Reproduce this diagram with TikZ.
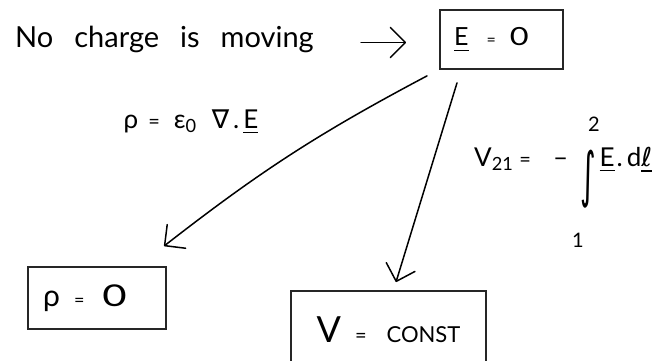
\documentclass[tikz,border=0pt]{standalone}
\usepackage{fontspec}
\setmainfont{Lato}
\newfontfamily\symf{DejaVu Sans}
\usetikzlibrary{arrows.meta}
\newcommand\vunder[1]{\leavevmode\vtop{\hbox{#1}\kern 4pt\hrule height 1.3pt}}
\newcommand\roundzero[1]{\scalebox{#1}[1]{0}}
\begin{document}
\begin{tikzpicture}[x=1pt,y=-1pt,
  box/.style={draw=black!85, line width=1.8pt, inner sep=0pt, anchor=center},
  hand/.style={line width=1.5pt, line cap=round, line join=round,
    -{Straight Barb[length=15pt,width=30pt,line cap=round,line join=round]}},
  lbl/.style={inner sep=0pt}]
\useasboundingbox (0,0) rectangle (672,361);
\clip (0,0) rectangle (672,361);

% text at top left
\node[lbl, anchor=base west] (t) at (15,48)
  {\fontsize{29}{30}\selectfont\spaceskip=21pt No charge is moving};

% boxes
\node[box, minimum width=123pt, minimum height=59pt] (E) at (501.5,39.5)
  {\hspace*{-20pt}\fontsize{25}{28}\selectfont \vunder{E}\hspace{18pt}{\fontsize{16}{16}\selectfont =}\hspace{14pt}\roundzero{1.3}};
\node[box, minimum width=138pt, minimum height=62pt] (rho) at (97,298)
  {\hspace*{-24pt}\fontsize{30}{30}\selectfont ρ\hspace{14pt}{\fontsize{18}{18}\selectfont =}\hspace{18pt}\roundzero{1.4}};
\node[box, minimum width=195pt, minimum height=78pt] (V) at (388.5,330)
  {{\fontsize{36}{36}\selectfont V}\hspace{14pt}{\fontsize{20}{20}\selectfont =}\hspace{20pt}{\fontsize{22}{22}\selectfont CONST}};

% labels
\node[lbl, anchor=base] (gauss) at (191,128)
  {\fontsize{26}{28}\selectfont ρ\hspace{10pt}{\fontsize{20}{20}\selectfont =}\hspace{14pt}ε\textsubscript{0}\hspace{15pt}{\symf ∇}\hspace{4pt}.\hspace{4pt}\vunder{E}};
\node[lbl, anchor=base west] (pot) at (474,166)
  {\fontsize{26}{28}\selectfont V\textsubscript{21}\hspace{6pt}{\fontsize{20}{20}\selectfont =}\hspace{22pt}–\hspace{12pt}\raisebox{-29pt}{\scalebox{1}[2]{\fontsize{30}{30}\symf ∫}}\hspace{4pt}\vunder{E}\hspace{2pt}.\hspace{4pt}d\vunder{{\symf ℓ}}};
\node[lbl] (up) at (594,124) {\fontsize{20}{22}\selectfont 2};
\node[lbl] (lo) at (578,240) {\fontsize{20}{22}\selectfont 1};

% connectors
\draw[hand] ([shift={(-78,3)}]E.west) -- ([shift={(-33,3)}]E.west);
\draw[hand] ([shift={(-74.5,6)}]E.south) to[bend right=5] ([shift={(67,-20)}]rho.north);
\draw[hand] ([shift={(-44.5,13)}]E.south) -- ([shift={(7.5,-8)}]V.north);
\end{tikzpicture}
\end{document}
